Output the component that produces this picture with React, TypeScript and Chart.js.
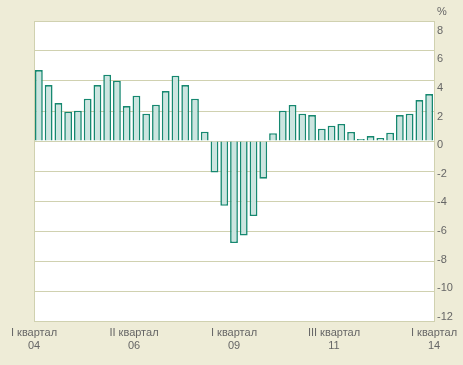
import React, { useEffect, useRef } from "react";
import { Chart, registerables } from "chart.js";

Chart.register(...registerables);

const quarters: string[] = [
  "2004 Q1","2004 Q2","2004 Q3","2004 Q4",
  "2005 Q1","2005 Q2","2005 Q3","2005 Q4",
  "2006 Q1","2006 Q2","2006 Q3","2006 Q4",
  "2007 Q1","2007 Q2","2007 Q3","2007 Q4",
  "2008 Q1","2008 Q2","2008 Q3","2008 Q4",
  "2009 Q1","2009 Q2","2009 Q3","2009 Q4",
  "2010 Q1","2010 Q2","2010 Q3","2010 Q4",
  "2011 Q1","2011 Q2","2011 Q3","2011 Q4",
  "2012 Q1","2012 Q2","2012 Q3","2012 Q4",
  "2013 Q1","2013 Q2","2013 Q3","2013 Q4",
  "2014 Q1",
];

const growth: number[] = [
  4.73, 3.73, 2.53, 1.95, 2.02, 2.82, 3.73, 4.42, 4.02, 2.33, 3.02,
  1.82, 2.42, 3.33, 4.35, 3.73, 2.82, 0.62,
  -2.1, -4.32, -6.8, -6.3, -5.0, -2.51,
  0.52, 2.02, 2.4, 1.82, 1.73, 0.82, 1.02, 1.14, 0.6,
  0.14, 0.33, 0.2, 0.55, 1.73, 1.82, 2.73, 3.13,
];

const axisLabels: string[][] = [
  ["I квартал", "04"],
  ["II квартал", "06"],
  ["I квартал", "09"],
  ["III квартал", "11"],
  ["I квартал", "14"],
];

const yMin = -12;
const yMax = 8;
const yStep = 2;
// the tick-label column of the reference is spaced slightly tighter than the grid
const labelMin = -12.3;
const labelMax = 8.68;
const unitLabel = "%";

const BG = "#eeecd7";
const GRID = "#d0d1b0";
const TEXT = "#666666";
const FONT = "'Liberation Sans', Arial, sans-serif";

export default function App() {
  const ref = useRef<HTMLCanvasElement | null>(null);

  useEffect(() => {
    if (!ref.current) return;
    const areaPlugin = {
      id: "areaPlugin",
      beforeDraw(chart: any) {
        const { ctx, chartArea } = chart;
        ctx.save();
        ctx.fillStyle = BG;
        ctx.fillRect(0, 0, chart.width, chart.height);
        ctx.fillStyle = "#ffffff";
        ctx.fillRect(chartArea.left, chartArea.top, chartArea.right - chartArea.left, chartArea.bottom - chartArea.top);
        ctx.restore();
      },
      afterDatasetsDraw(chart: any) {
        const { ctx, chartArea } = chart;
        ctx.save();
        ctx.strokeStyle = GRID;
        ctx.lineWidth = 1;
        ctx.strokeRect(Math.round(chartArea.left) + 0.5, Math.round(chartArea.top) + 0.5, Math.round(chartArea.right - chartArea.left), Math.round(chartArea.bottom - chartArea.top));
        ctx.fillStyle = TEXT;
        ctx.font = `11px ${FONT}`;
        ctx.textAlign = "left";
        ctx.textBaseline = "middle";
        ctx.fillText(unitLabel, chartArea.right + 3, 12);
        ctx.restore();
      },
    };

    const chart = new Chart(ref.current, {
      type: "bar",
      data: {
        labels: quarters,
        datasets: [
          {
            data: growth,
            backgroundColor: "#cce5e0",
            borderColor: "#168870",
            borderWidth: 1.6,
            barPercentage: 0.8,
            categoryPercentage: 1,
            xAxisID: "x",
            yAxisID: "y",
          },
        ],
      },
      options: {
        animation: false,
        responsive: false,
        maintainAspectRatio: false,
        layout: { padding: { left: 34, top: 21, right: 0, bottom: 0 } },
        plugins: { legend: { display: false }, tooltip: { enabled: false } },
        scales: {
          x: {
            type: "category",
            display: false,
            offset: true,
          },
          x2: {
            type: "linear",
            position: "bottom",
            offset: false,
            min: 0,
            max: axisLabels.length - 1,
            grid: { display: false, drawTicks: false },
            border: { display: false },
            afterFit: (s: any) => { s.height = 44; },
            ticks: {
              stepSize: 1,
              autoSkip: false,
              maxRotation: 0,
              padding: 5,
              color: TEXT,
              font: { family: FONT, size: 11, lineHeight: 1.2 },
              callback: (v: any) => axisLabels[Math.round(Number(v))] ?? "",
            },
          },
          y: {
            position: "right",
            min: yMin,
            max: yMax,
            afterFit: (s: any) => { s.width = 0; },
            grid: { color: GRID, drawTicks: false, lineWidth: 1 },
            border: { display: false },
            ticks: { display: false, stepSize: yStep },
          },
          y2: {
            type: "linear",
            position: "right",
            min: labelMin,
            max: labelMax,
            afterFit: (s: any) => { s.width = 29; },
            grid: { display: false, drawTicks: false },
            border: { display: false },
            ticks: {
              stepSize: yStep,
              includeBounds: false,
              padding: 3,
              color: TEXT,
              font: { family: FONT, size: 11 },
            },
          },
        },
      },
      plugins: [areaPlugin],
    });
    return () => chart.destroy();
  }, []);

  return (
    <div style={{ position: "fixed", left: 0, top: 0, width: 463, height: 365, background: BG }}>
      <canvas ref={ref} width={463} height={365} style={{ display: "block" }} />
    </div>
  );
}
